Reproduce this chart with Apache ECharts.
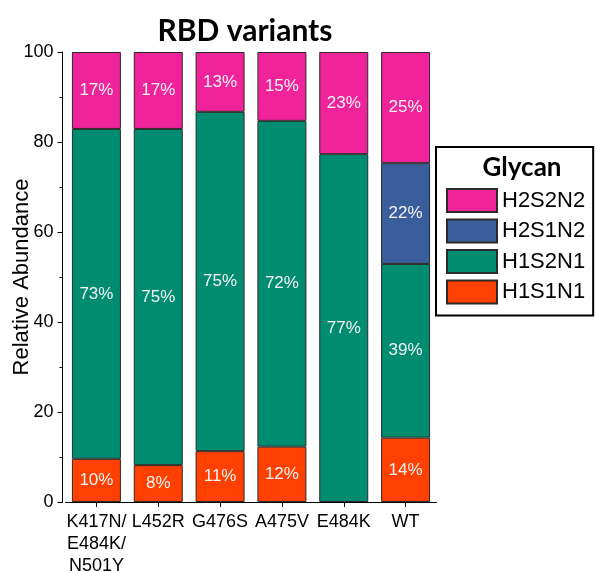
<!DOCTYPE html>
<html>
<head>
<meta charset="utf-8">
<script src="https://cdn.jsdelivr.net/npm/echarts@6/dist/echarts.min.js"></script>
<style>html,body{margin:0;padding:0;background:#fff;}#c{width:596px;height:571px;}</style>
</head>
<body>
<div id="c"></div>
<script>
const categories = ['K417N/\nE484K/\nN501Y', 'L452R', 'G476S', 'A475V', 'E484K', 'WT'];
const H1S1N1 = [9.6, 8.2, 11.3, 12.3, 0, 14.3];
const H1S2N1 = [73.3, 74.7, 75.4, 72.4, 77.3, 38.6];
const H2S1N2 = [0, 0, 0, 0, 0, 22.4];
const H2S2N2 = [17.1, 17.1, 13.3, 15.3, 22.7, 24.7];
const yTicks = [0, 20, 40, 60, 80, 100];

const colors = {H1S1N1: '#FF4000', H1S2N1: '#008C70', H2S1N2: '#3A5E9C', H2S2N2: '#F0239B'};
const FONT = '"Liberation Sans", Arial, sans-serif';

function mk(name, arr) {
  return {
    name: name,
    type: 'bar',
    stack: 'total',
    barWidth: 49,
    data: arr.map(v => v === 0 ? null : v),
    itemStyle: {color: colors[name], borderColor: '#2a2a2a', borderWidth: 1},
    label: {
      show: true,
      position: 'inside',
      color: '#f4f4f4',
      fontFamily: FONT,
      fontSize: 17,
      formatter: p => (p.value ? Math.round(p.value) + '%' : '')
    },
    emphasis: {disabled: true}
  };
}

const chart = echarts.init(document.getElementById('c'), null, {renderer: 'canvas'});
chart.setOption({
  animation: false,
  backgroundColor: '#fff',
  grid: {left: 65.5, top: 52, width: 371, height: 450, containLabel: false, outerBoundsMode: 'none'},
  xAxis: {
    type: 'category',
    data: categories,
    axisLine: {lineStyle: {color: '#000', width: 1}},
    axisTick: {show: true, alignWithLabel: true, length: 5, lineStyle: {color: '#000'}},
    axisLabel: {color: '#000', fontFamily: FONT, fontSize: 18, lineHeight: 22, margin: 9, interval: 0}
  },
  yAxis: {
    type: 'value',
    min: yTicks[0],
    max: yTicks[yTicks.length - 1],
    interval: 20,
    offset: 3,
    name: 'Relative Abundance',
    nameLocation: 'middle',
    nameGap: 30,
    nameMoveOverlap: false,
    nameTextStyle: {color: '#000', fontFamily: FONT, fontSize: 22},
    axisLine: {show: true, lineStyle: {color: '#000', width: 1}},
    axisTick: {show: true, length: 5, lineStyle: {color: '#000'}},
    minorTick: {show: true, splitNumber: 2, length: 3, lineStyle: {color: '#000'}},
    splitLine: {show: false},
    axisLabel: {color: '#000', fontFamily: FONT, fontSize: 18, margin: 9}
  },
  legend: {
    data: ['H2S2N2', 'H2S1N2', 'H1S2N1', 'H1S1N1'],
    orient: 'vertical',
    left: 436,
    top: 147,
    padding: [41, 8, 11, 10],
    itemWidth: 50,
    itemHeight: 23,
    itemGap: 5.5,
    icon: 'rect',
    borderColor: '#000',
    borderWidth: 2,
    borderRadius: 0,
    selectedMode: false,
    textStyle: {color: '#000', fontFamily: FONT, fontSize: 22, lineHeight: 23}
  },
  graphic: [
    {type: 'text', x: 245, y: 16, style: {text: 'RBD variants', fill: '#000', font: 'bold 30px Lato, "Open Sans", sans-serif', textAlign: 'center', textVerticalAlign: 'top'}},
    {type: 'text', x: 522, y: 155, style: {text: 'Glycan', fill: '#000', font: 'bold 26px Lato, "Open Sans", sans-serif', textAlign: 'center', textVerticalAlign: 'top'}}
  ],
  series: [mk('H1S1N1', H1S1N1), mk('H1S2N1', H1S2N1), mk('H2S1N2', H2S1N2), mk('H2S2N2', H2S2N2)]
});
</script>
</body>
</html>
